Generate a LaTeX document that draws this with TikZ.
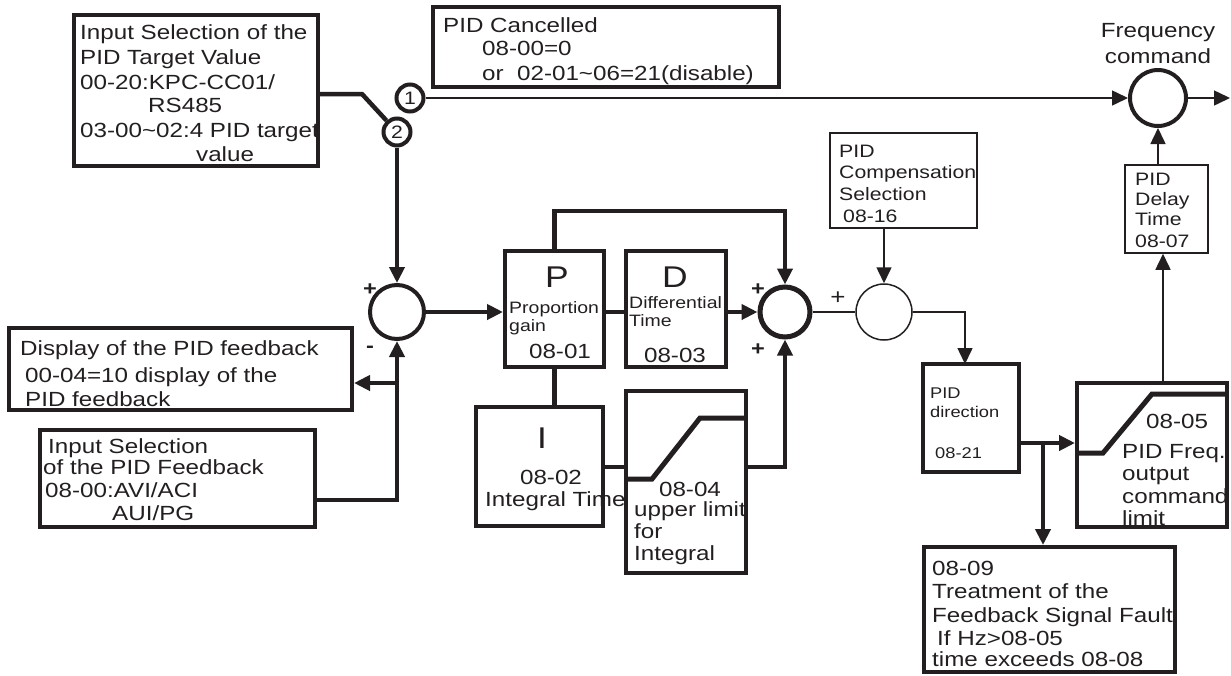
\documentclass[tikz,border=0pt]{standalone}
\usepackage{fontspec}
\setmainfont{Liberation Sans}[FakeStretch=1.18]
\usetikzlibrary{arrows.meta}
\definecolor{ink}{HTML}{231F20}
\newcommand\rbox[6]{\node[#2, minimum width={(#5)-(#3)}, minimum height={(#6)-(#4)}] (#1) at ({((#3)+(#5))/2},{((#4)+(#6))/2}) {};}
\tikzset{
  txt/.style={inner sep=0pt, text=ink, font=\fontsize{20.5}{24}\selectfont, anchor=base west},
  ctxt/.style={txt, anchor=base},
  smalltxt/.style={txt, font=\fontsize{16.5}{18}\selectfont},
  dirtxt/.style={txt, font=\fontsize{15.5}{18}\selectfont},
  comptxt/.style={txt, font=\fontsize{18}{20}\selectfont},
  bigtxt/.style={ctxt, font=\fontsize{30}{32}\selectfont},
  sgn/.style={ctxt, font=\bfseries\fontsize{20}{22}\selectfont},
  bx/.style={draw=ink, line width=4pt, inner sep=0pt},
  tbx/.style={draw=ink, line width=1.5pt, inner sep=0pt},
  sumc/.style={circle, draw=ink, inner sep=0pt, line width=4pt},
  swc/.style={circle, draw=ink, inner sep=0pt, line width=4pt, minimum size=27pt, text=ink, font=\fontsize{18}{18}\selectfont},
  thk/.style={draw=ink, line width=4.5pt},
  thn/.style={draw=ink, line width=1.5pt},
  >={Triangle[length=16pt,width=15pt]}
}
\begin{document}
\begin{tikzpicture}[x=1pt,y=-1pt]
\useasboundingbox (0,0) rectangle (1231,675);
% ---------- texts ----------
\node[txt] (tl1) at (80,39) {Input Selection of the};
\node[txt] (tl2) at (80,64) {PID Target Value};
\node[txt] (tl3) at (80,89) {00-20:KPC-CC01/};
\node[txt] (tl4) at (148,112) {RS485};
\node[txt] (tl5) at (80,137) {03-00\textasciitilde 02:4 PID target};
\node[txt] (tl6) at (196,161) {value};
\node[txt] (pc1) at (443,32) {PID Cancelled};
\node[txt] (pc2) at (482,55) {08-00=0};
\node[txt] (pc3) at (482,80) {or\ \ 02-01\textasciitilde 06=21(disable)};
\node[ctxt] (fq1) at (1158,37) {Frequency};
\node[ctxt] (fq2) at (1158,63) {command};
\node[comptxt] (dl1) at (1135,185) {PID};
\node[comptxt] (dl2) at (1135,205) {Delay};
\node[comptxt] (dl3) at (1135,225) {Time};
\node[comptxt] (dl4) at (1135,247) {08-07};
\node[comptxt] (cp1) at (839,157) {PID};
\node[comptxt] (cp2) at (839,178) {Compensation};
\node[comptxt] (cp3) at (839,200) {Selection};
\node[comptxt] (cp4) at (843,222) {08-16};
\node[bigtxt] (pl) at (557,287) {P};
\node[smalltxt] (p1) at (509,313) {Proportion};
\node[smalltxt] (p2) at (509,331) {gain};
\node[ctxt] (p3) at (560,358) {08-01};
\node[bigtxt] (dlt) at (675,287) {D};
\node[smalltxt] (d1) at (629,308) {Differential};
\node[smalltxt] (d2) at (629,326) {Time};
\node[ctxt] (d3) at (675,362) {08-03};
\node[bigtxt] (il) at (542,448) {I};
\node[ctxt] (i1) at (551,484) {08-02};
\node[txt] (i2) at (485,506) {Integral Time};
\node[ctxt] (u1) at (690,496) {08-04};
\node[txt] (u2) at (634,516) {upper limit};
\node[txt] (u3) at (634,538) {for};
\node[txt] (u4) at (634,560) {Integral};
\node[txt] (dp1) at (20,355) {Display of the PID feedback};
\node[txt] (dp2) at (25,382) {00-04=10 display of the};
\node[txt] (dp3) at (25,406) {PID feedback};
\node[txt] (if1) at (48,453) {Input Selection};
\node[txt] (if2) at (43,474) {of the PID Feedback};
\node[txt] (if3) at (45,497) {08-00:AVI/ACI};
\node[txt] (if4) at (112,520) {AUI/PG};
\node[dirtxt] (dr1) at (930,398) {PID};
\node[dirtxt] (dr2) at (930,417) {direction};
\node[dirtxt] (dr3) at (935,458) {08-21};
\node[txt] (lm1) at (1146,428) {08-05};
\node[txt] (lm2) at (1122,458) {PID Freq.};
\node[txt] (lm3) at (1122,480) {output};
\node[txt] (lm4) at (1122,503) {command};
\node[txt] (lm5) at (1122,525) {limit};
\node[txt] (fb1) at (932,575) {08-09};
\node[txt] (fb2) at (932,598) {Treatment of the};
\node[txt] (fb3) at (932,622) {Feedback Signal Fault};
\node[txt] (fb4) at (937,645) {If Hz>08-05};
\node[txt] (fb5) at (932,666) {time exceeds 08-08};
\node[sgn] (s1p) at (370,295) {+};
\node[sgn] (s1m) at (370,352) {-};
\node[sgn] (s2p) at (758,295) {+};
\node[sgn] (s2q) at (758,355) {+};
\node[ctxt, font=\fontsize{22}{24}\selectfont] (s3p) at (838,304) {+};
% ---------- boxes ----------
\rbox{TL}{bx}{74}{15}{318}{166}
\rbox{PC}{bx}{433}{7}{779}{87}
\rbox{DL}{tbx}{1125}{165}{1208}{253}
\rbox{CP}{tbx}{830}{133}{977}{228}
\rbox{P}{bx}{505}{251}{604}{367}
\rbox{D}{bx}{626}{251}{726}{367}
\rbox{I}{bx}{476}{407}{603}{526}
\rbox{U}{bx}{626}{391}{746}{573}
\rbox{DP}{bx}{9}{328}{352}{410}
\rbox{IF}{bx}{40}{430}{315}{527}
\rbox{DR}{bx}{923}{364}{1019}{472}
\rbox{LM}{bx}{1077}{383}{1227}{527}
\rbox{FB}{bx}{924}{547}{1175}{672}
% ---------- circles ----------
\node[sumc, minimum size=54pt] (C1) at (397,312) {};
\node[sumc, minimum size=50pt, line width=5pt] (C2) at (785,312) {};
\node[circle, draw=ink, line width=1.5pt, minimum size=56pt, inner sep=0pt] (C3) at (884,312) {};
\node[sumc, minimum size=56pt] (F) at (1158,98) {};
\node[swc] (S1) at (410,98) {1};
\node[swc] (S2) at (397,132) {2};
% ---------- saturation curves ----------
\draw[thk, line width=5pt] (626,479) -- (652,479) -- (700,418) -- (746,418);
\draw[thk, line width=5pt] (1077,453) -- (1103,453) -- (1152,394) -- (1227,394);
% ---------- connectors ----------
\coordinate (k) at (362,94);
\draw[thk] (TL.east |- k) -- (k) -- (S2);
\draw[thn, ->] (S1) -- (F);
\coordinate (outc) at (1230,98);
\draw[thn, ->] (F) -- (outc);
\draw[thk, ->] (S2) -- (C1);
\draw[thk, ->] (C1.east) -- (C1.east -| P.west);
\draw[thk] (P.east |- C1) -- (D.west |- C1);
\draw[thk, ->] (D.east |- C2) -- (C2.west);
\draw[thk, ->] (P.north) -- ++(0,-38) -| (C2.north);
\draw[thk] (P.south) -- (P.south |- I.north);
\coordinate (iy) at (0,467);
\draw[thk] (I.east |- iy) -- (U.west |- iy);
\draw[thk, ->] (U.east |- iy) -| (C2.south);
\draw[thn] (C2.east) -- (C3.west);
\draw[thn, ->] (CP.south -| C3) -- (C3.north);
\coordinate (dd) at (965,364);
\draw[thn, ->] (C3.east) -| (dd);
\coordinate (dy) at (0,443);
\draw[thk, ->] (DR.east |- dy) -- (LM.west |- dy);
\coordinate (br) at (1043,443);
\draw[thk, ->] (br) -- (br |- FB.north);
\coordinate (lmt) at (1163,383);
\draw[thn, ->] (lmt) -- (lmt |- DL.south);
\draw[thn, ->] (DL.north -| F) -- (F.south);
\coordinate (fbk) at (397,500);
\draw[thk, ->] (IF.east |- fbk) -- (fbk) -- (C1.south);
\coordinate (dj) at (397,383);
\draw[thk, ->] (dj) -- (DP.east |- dj);
\end{tikzpicture}
\end{document}
